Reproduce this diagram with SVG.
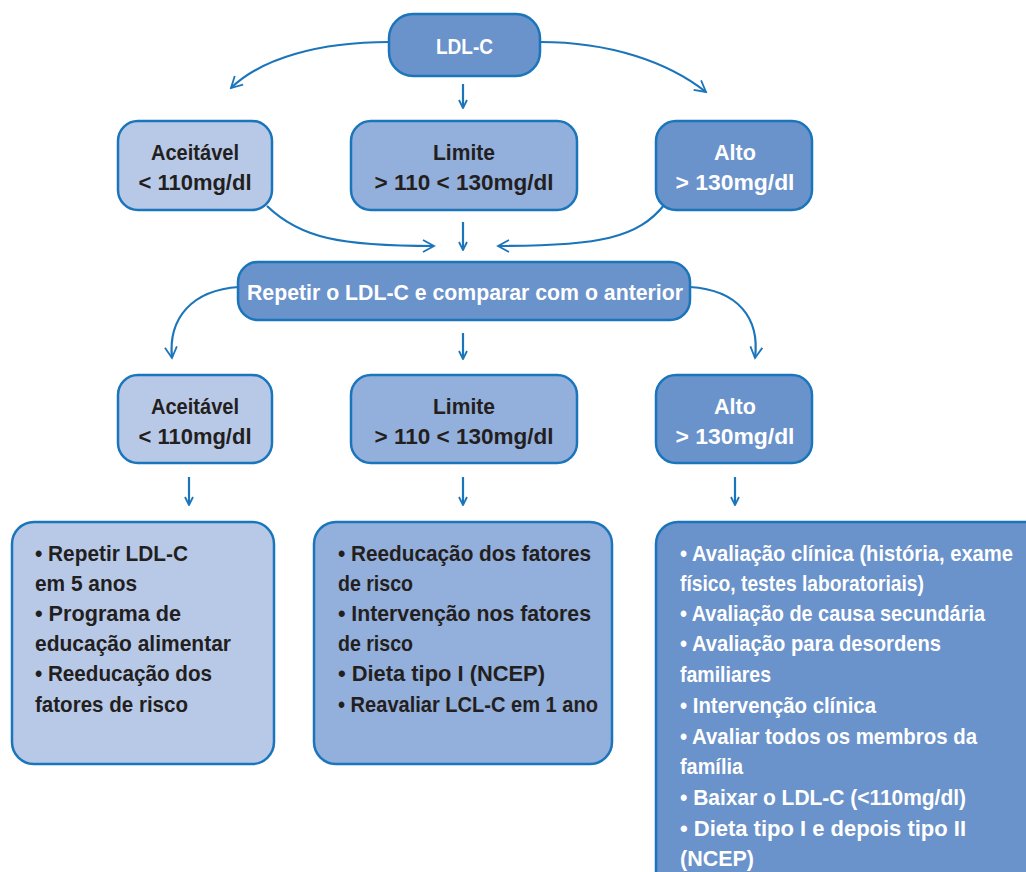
<svg xmlns="http://www.w3.org/2000/svg" width="1026" height="872" viewBox="0 0 1026 872">
<defs>
<style>
.box{stroke:#1b75bb;stroke-width:2.5}
.l1{fill:#b8c9e8}
.l2{fill:#93afdb}
.l3{fill:#6a92cb}
text{font-family:"Liberation Sans",Arial,sans-serif;font-weight:bold;font-size:22px}
.dk{fill:#231f20}
.wt{fill:#ffffff}
.c{text-anchor:middle}
.con{fill:none;stroke:#1b75bb;stroke-width:2.2}
</style>
<marker id="chev" viewBox="0 0 14 14" refX="12" refY="7" markerWidth="14" markerHeight="14" markerUnits="userSpaceOnUse" orient="auto">
<path d="M1,1 L12,7 L1,13" fill="none" stroke="#1b75bb" stroke-width="1.8"/>
</marker>
<marker id="sm" viewBox="0 0 10 10" refX="9" refY="5" markerWidth="10" markerHeight="10" markerUnits="userSpaceOnUse" orient="auto">
<path d="M1,1 L9,5 L1,9" fill="none" stroke="#1b75bb" stroke-width="1.8"/>
</marker>
</defs>

<g id="connectors">
<path class="con" d="M389,42 C320,42 262,58 231,88" marker-end="url(#chev)"/>
<path class="con" d="M540,42 C610,42 668,62 706,92" marker-end="url(#chev)"/>
<path class="con" d="M463,84 L463,108" marker-end="url(#sm)"/>
<path class="con" d="M267,206 C300,238 340,246 434,246" marker-end="url(#chev)"/>
<path class="con" d="M665,204 C638,238 600,246 498,246" marker-end="url(#chev)"/>
<path class="con" d="M463,222 L463,250" marker-end="url(#sm)"/>
<path class="con" d="M239,287 C192,290 168,318 172,358" marker-end="url(#chev)"/>
<path class="con" d="M690,287 C738,290 760,318 755,358" marker-end="url(#chev)"/>
<path class="con" d="M463,333 L463,359" marker-end="url(#sm)"/>
<path class="con" d="M189,477 L189,505" marker-end="url(#sm)"/>
<path class="con" d="M463,477 L463,505" marker-end="url(#sm)"/>
<path class="con" d="M735,477 L735,505" marker-end="url(#sm)"/>
</g>

<g id="ldlc">
<rect class="box l3" x="389" y="14" width="151" height="62" rx="24"/>
<text class="wt c" x="464.5" y="54" textLength="57" lengthAdjust="spacingAndGlyphs">LDL-C</text>
</g>

<g id="aceitavel1">
<rect class="box l1" x="118" y="121" width="154" height="89" rx="20"/>
<text class="dk c" x="195" y="160" textLength="88" lengthAdjust="spacingAndGlyphs">Aceitável</text>
<text class="dk c" x="195" y="190" textLength="113" lengthAdjust="spacingAndGlyphs">&lt; 110mg/dl</text>
</g>

<g id="limite1">
<rect class="box l2" x="351" y="121" width="226" height="89" rx="20"/>
<text class="dk c" x="464" y="160" textLength="62" lengthAdjust="spacingAndGlyphs">Limite</text>
<text class="dk c" x="464" y="190" textLength="179" lengthAdjust="spacingAndGlyphs">&gt; 110 &lt; 130mg/dl</text>
</g>

<g id="alto1">
<rect class="box l3" x="656" y="121" width="156" height="89" rx="20"/>
<text class="wt c" x="735" y="160" textLength="42" lengthAdjust="spacingAndGlyphs">Alto</text>
<text class="wt c" x="735" y="190" textLength="119" lengthAdjust="spacingAndGlyphs">&gt; 130mg/dl</text>
</g>

<g id="repetir">
<rect class="box l3" x="238" y="262" width="452" height="58" rx="20"/>
<text class="wt c" x="465" y="300" textLength="436" lengthAdjust="spacingAndGlyphs">Repetir o LDL-C e comparar com o anterior</text>
</g>

<g id="aceitavel2">
<rect class="box l1" x="118" y="375" width="154" height="88" rx="20"/>
<text class="dk c" x="195" y="414" textLength="88" lengthAdjust="spacingAndGlyphs">Aceitável</text>
<text class="dk c" x="195" y="444" textLength="113" lengthAdjust="spacingAndGlyphs">&lt; 110mg/dl</text>
</g>

<g id="limite2">
<rect class="box l2" x="351" y="375" width="226" height="88" rx="20"/>
<text class="dk c" x="464" y="414" textLength="62" lengthAdjust="spacingAndGlyphs">Limite</text>
<text class="dk c" x="464" y="444" textLength="179" lengthAdjust="spacingAndGlyphs">&gt; 110 &lt; 130mg/dl</text>
</g>

<g id="alto2">
<rect class="box l3" x="656" y="375" width="156" height="88" rx="20"/>
<text class="wt c" x="735" y="414" textLength="42" lengthAdjust="spacingAndGlyphs">Alto</text>
<text class="wt c" x="735" y="444" textLength="119" lengthAdjust="spacingAndGlyphs">&gt; 130mg/dl</text>
</g>

<g id="acoes-aceitavel">
<rect class="box l1" x="12" y="522" width="262" height="242" rx="22"/>
<text class="dk" x="35" y="561" textLength="153" lengthAdjust="spacingAndGlyphs">• Repetir LDL-C</text>
<text class="dk" x="35" y="591" textLength="102" lengthAdjust="spacingAndGlyphs">em 5 anos</text>
<text class="dk" x="35" y="621" textLength="146" lengthAdjust="spacingAndGlyphs">• Programa de</text>
<text class="dk" x="35" y="651" textLength="196" lengthAdjust="spacingAndGlyphs">educação alimentar</text>
<text class="dk" x="35" y="681" textLength="177" lengthAdjust="spacingAndGlyphs">• Reeducação dos</text>
<text class="dk" x="35" y="712" textLength="153" lengthAdjust="spacingAndGlyphs">fatores de risco</text>
</g>

<g id="acoes-limite">
<rect class="box l2" x="314" y="522" width="298" height="242" rx="22"/>
<text class="dk" x="338" y="561" textLength="253" lengthAdjust="spacingAndGlyphs">• Reeducação dos fatores</text>
<text class="dk" x="338" y="591" textLength="75" lengthAdjust="spacingAndGlyphs">de risco</text>
<text class="dk" x="338" y="621" textLength="253" lengthAdjust="spacingAndGlyphs">• Intervenção nos fatores</text>
<text class="dk" x="338" y="651" textLength="75" lengthAdjust="spacingAndGlyphs">de risco</text>
<text class="dk" x="338" y="681" textLength="207" lengthAdjust="spacingAndGlyphs">• Dieta tipo I (NCEP)</text>
<text class="dk" x="338" y="712" textLength="260" lengthAdjust="spacingAndGlyphs">• Reavaliar LCL-C em 1 ano</text>
</g>

<g id="acoes-alto">
<rect class="box l3" x="656" y="522" width="400" height="380" rx="22"/>
<text class="wt" x="680" y="561" textLength="333" lengthAdjust="spacingAndGlyphs">• Avaliação clínica (história, exame</text>
<text class="wt" x="680" y="591" textLength="244" lengthAdjust="spacingAndGlyphs">físico, testes laboratoriais)</text>
<text class="wt" x="680" y="621" textLength="305" lengthAdjust="spacingAndGlyphs">• Avaliação de causa secundária</text>
<text class="wt" x="680" y="651" textLength="261" lengthAdjust="spacingAndGlyphs">• Avaliação para desordens</text>
<text class="wt" x="680" y="682" textLength="91" lengthAdjust="spacingAndGlyphs">familiares</text>
<text class="wt" x="680" y="713" textLength="196" lengthAdjust="spacingAndGlyphs">• Intervenção clínica</text>
<text class="wt" x="680" y="744" textLength="297" lengthAdjust="spacingAndGlyphs">• Avaliar todos os membros da</text>
<text class="wt" x="680" y="774" textLength="63" lengthAdjust="spacingAndGlyphs">família</text>
<text class="wt" x="680" y="805" textLength="286" lengthAdjust="spacingAndGlyphs">• Baixar o LDL-C (&lt;110mg/dl)</text>
<text class="wt" x="680" y="836" textLength="286" lengthAdjust="spacingAndGlyphs">• Dieta tipo I e depois tipo II</text>
<text class="wt" x="680" y="866" textLength="74" lengthAdjust="spacingAndGlyphs">(NCEP)</text>
</g>
</svg>
